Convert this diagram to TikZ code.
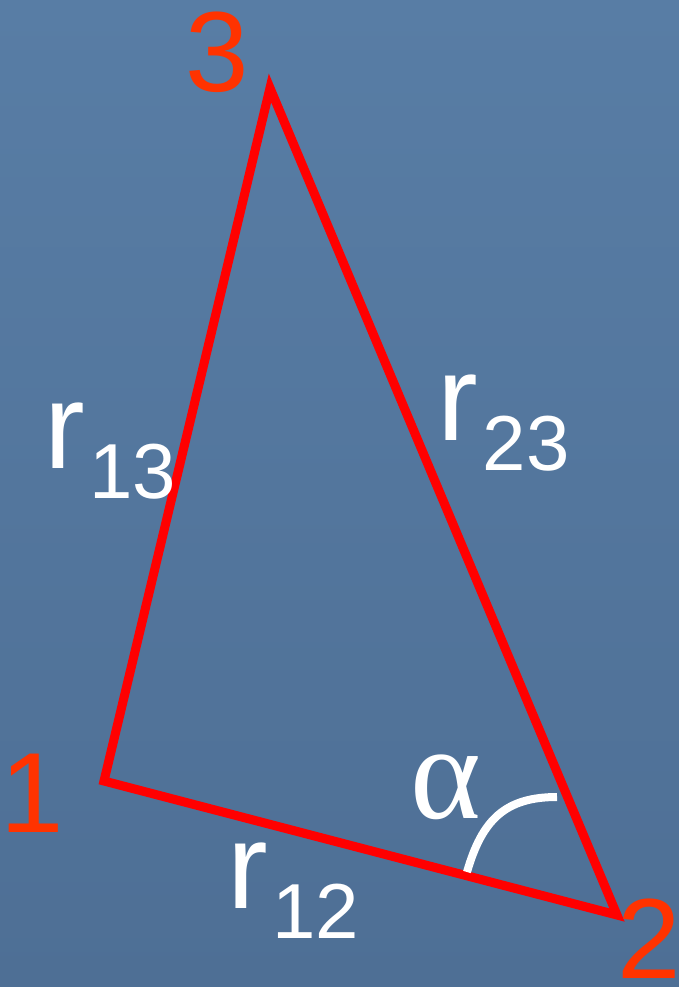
\documentclass[tikz,border=0pt]{standalone}
\usepackage{fontspec}
\setmainfont{Liberation Sans}
\newfontfamily\alphafont{Liberation Serif}
\usepackage{xcolor}
\definecolor{slate}{RGB}{88,125,165}
\definecolor{slatedark}{RGB}{78,111,149}
\definecolor{vertexred}{RGB}{255,51,0}
\newcommand{\sidelabel}[1]{r\hspace{5pt}{\fontsize{78}{78}\selectfont\raisebox{-30pt}{#1}}}

\begin{document}
\begin{tikzpicture}[x=1pt, y=-1pt,
  every node/.style={inner sep=0pt, outer sep=0pt},
  vlabel/.style={anchor=base west, text=vertexred, font=\fontsize{114}{114}\selectfont},
  slabel/.style={anchor=base west, text=white, font=\fontsize{122}{122}\selectfont},
  edge/.style={draw=red, line width=9pt, line join=miter},
  anglearc/.style={draw=white, line width=8pt}]
\shade[top color=slate, bottom color=slatedark] (0,0) rectangle (679,987);
\useasboundingbox (0,0) rectangle (679,987);

\coordinate (v1) at (104,781);
\coordinate (v2) at (617,915);
\coordinate (v3) at (270,88);
\draw[edge] (v1) -- (v2) -- (v3) -- cycle;

\node[vlabel] (l1) at (0,832) {1};
\node[vlabel] (l2) at (617,978) {2};
\node[vlabel] (l3) at (185,92) {3};

\node[slabel] (r13) at (44,468) {\sidelabel{13}};
\node[slabel] (r23) at (437,440) {\sidelabel{23}};
\node[slabel] (r12) at (227,908) {\sidelabel{12}};

% angle at vertex 2
\coordinate (arcA) at (467,872);
\coordinate (arcB) at (557,797);
\draw[anglearc] (arcA) .. controls (482,820) and (505,797) .. (arcB);
\node[anchor=base west, text=white, font=\alphafont\fontsize{135}{135}\selectfont] (alpha) at (410,818) {α};
\end{tikzpicture}
\end{document}
